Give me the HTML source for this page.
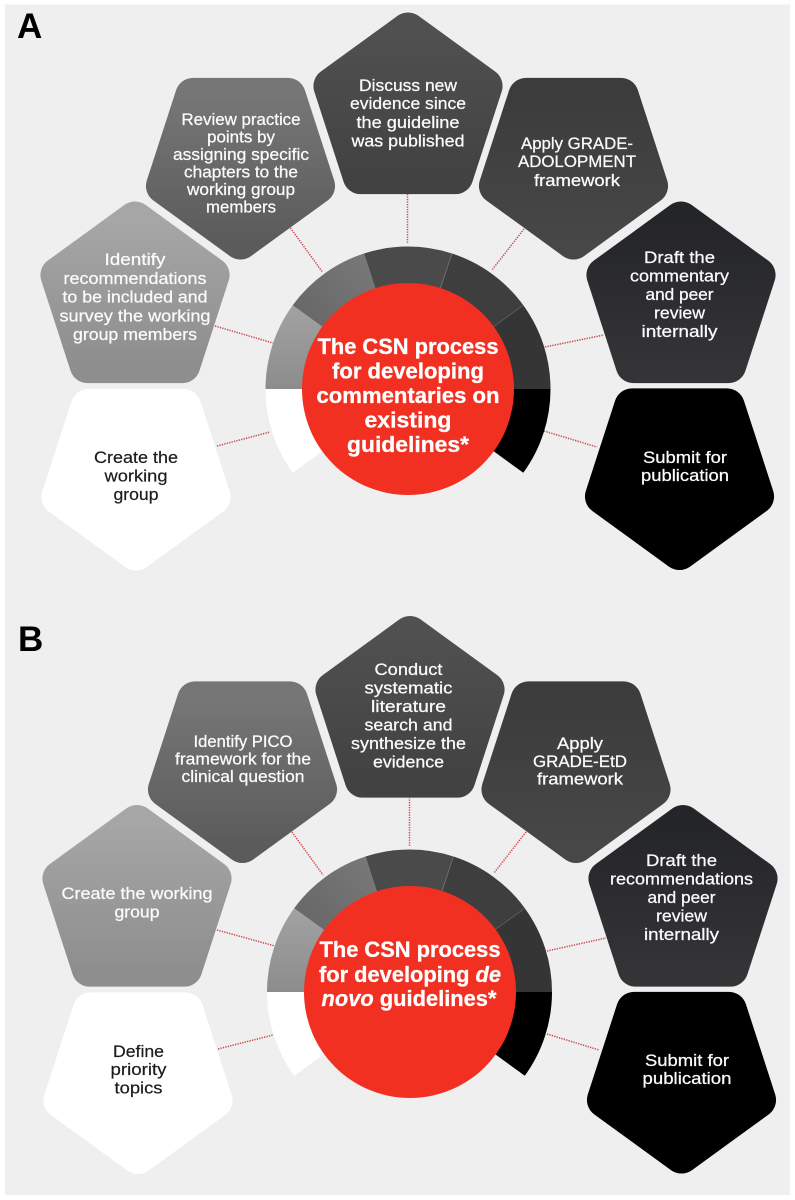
<!DOCTYPE html>
<html><head><meta charset="utf-8"><title>CSN process</title>
<style>
html,body{margin:0;padding:0;background:#fff}
svg{display:block;filter:blur(.3px)}
text{font-family:"Liberation Sans",sans-serif;text-anchor:middle}
.w{font-size:16.5px;fill:#fbfbfb;stroke:#fbfbfb;stroke-width:.25px}
.k{font-size:16.5px;fill:#1c1c1c;stroke:#1c1c1c;stroke-width:.2px}
.c{font-size:22.5px;font-weight:bold;fill:#fff;stroke:#fff;stroke-width:.3px}
.l{font-size:35px;font-weight:bold;fill:#000;text-anchor:start}
.d{stroke:#c9484c;stroke-width:1.5;stroke-dasharray:1.3 1.2;fill:none}
.s{stroke-linejoin:round;stroke-width:36}
</style></head><body>
<svg xmlns="http://www.w3.org/2000/svg" width="795" height="1200" viewBox="0 0 795 1200">
<defs>
<linearGradient id="g2" x1="0" y1="0" x2="0" y2="1"><stop offset="0" stop-color="#a6a6a6"/><stop offset="1" stop-color="#8e8e8e"/></linearGradient>
<linearGradient id="g3" x1="0" y1="0" x2="0" y2="1"><stop offset="0" stop-color="#767676"/><stop offset="1" stop-color="#5b5b5b"/></linearGradient>
<linearGradient id="g4" x1="0" y1="0" x2="0" y2="1"><stop offset="0" stop-color="#505050"/><stop offset="1" stop-color="#424242"/></linearGradient>
<linearGradient id="g5" x1="0" y1="0" x2="0" y2="1"><stop offset="0" stop-color="#3c3c3c"/><stop offset="1" stop-color="#474747"/></linearGradient>
<linearGradient id="g6" x1="0" y1="0" x2="0" y2="1"><stop offset="0" stop-color="#242528"/><stop offset="1" stop-color="#343437"/></linearGradient>
<linearGradient id="r3" x1="0" y1="1" x2="1" y2="0"><stop offset="0" stop-color="#5e5e5e"/><stop offset="1" stop-color="#7e7e7e"/></linearGradient>
<linearGradient id="r2" x1="0" y1="0" x2="0" y2="1"><stop offset="0" stop-color="#a2a2a2"/><stop offset="1" stop-color="#8c8c8c"/></linearGradient>
</defs>
<rect x="5" y="4.5" width="785" height="1190.5" fill="#efefef"/>

<!-- Panel A -->
<g class="s">
<polygon transform="translate(136,472)" points="0,80.5 76.56,24.88 47.32,-65.13 -47.32,-65.13 -76.56,24.88" fill="#fff" stroke="#fff"/>
<polygon transform="translate(135,300)" points="0,-80.5 76.56,-24.88 47.32,65.13 -47.32,65.13 -76.56,-24.88" fill="url(#g2)" stroke="url(#g2)"/>
<polygon transform="translate(240.5,161)" points="0,80.5 76.56,24.88 47.32,-65.13 -47.32,-65.13 -76.56,24.88" fill="url(#g3)" stroke="url(#g3)"/>
<polygon transform="translate(408,111)" points="0,-80.5 76.56,-24.88 47.32,65.13 -47.32,65.13 -76.56,-24.88" fill="url(#g4)" stroke="url(#g4)"/>
<polygon transform="translate(573.5,161)" points="0,80.5 76.56,24.88 47.32,-65.13 -47.32,-65.13 -76.56,24.88" fill="url(#g5)" stroke="url(#g5)"/>
<polygon transform="translate(681,300)" points="0,-80.5 76.56,-24.88 47.32,65.13 -47.32,65.13 -76.56,-24.88" fill="url(#g6)" stroke="url(#g6)"/>
<polygon transform="translate(679.5,471.5)" points="0,80.5 76.56,24.88 47.32,-65.13 -47.32,-65.13 -76.56,24.88" fill="#000" stroke="#000"/>
</g>
<line class="d" x1="217" y1="446" x2="270" y2="432"/>
<line class="d" x1="215" y1="326" x2="273" y2="343"/>
<line class="d" x1="290.5" y1="228" x2="322" y2="271.5"/>
<line class="d" x1="407.5" y1="194" x2="407.5" y2="243"/>
<line class="d" x1="524" y1="229" x2="492" y2="270"/>
<line class="d" x1="545" y1="347" x2="604" y2="335"/>
<line class="d" x1="544" y1="431" x2="597" y2="447"/>
<g transform="translate(408,389)">
<path d="M0,0L-142.5,0A142.5,142.5 0 0 0 -115.3,83.8Z" fill="#fff"/>
<path d="M0,0L-115.3,-83.8A142.5,142.5 0 0 0 -142.5,0Z" fill="url(#r2)"/>
<path d="M0,0L-44,-135.5A142.5,142.5 0 0 0 -115.3,-83.8Z" fill="url(#r3)"/>
<path d="M0,0L44,-135.5A142.5,142.5 0 0 0 -44,-135.5Z" fill="#4a4a4a"/>
<path d="M0,0L115.3,-83.8A142.5,142.5 0 0 0 44,-135.5Z" fill="#3e3e3e"/>
<path d="M0,0L142.5,0A142.5,142.5 0 0 0 115.3,-83.8Z" fill="#353535"/>
<path d="M0,0L115.3,83.8A142.5,142.5 0 0 0 142.5,0Z" fill="#000"/>
<line x1="44" y1="-135.5" x2="32" y2="-100" stroke="#777" stroke-width=".7"/>
<line x1="115.3" y1="-83.8" x2="85" y2="-62" stroke="#666" stroke-width=".7"/>
<circle r="106" fill="#f23022"/>
</g>
<text class="l" x="17" y="38">A</text>
<text class="c" x="408" y="354" textLength="181" lengthAdjust="spacingAndGlyphs">The CSN process</text>
<text class="c" x="408" y="378.5" textLength="152" lengthAdjust="spacingAndGlyphs">for developing</text>
<text class="c" x="408" y="403" textLength="183" lengthAdjust="spacingAndGlyphs">commentaries on</text>
<text class="c" x="408" y="427.5" textLength="87" lengthAdjust="spacingAndGlyphs">existing</text>
<text class="c" x="408" y="452" textLength="122" lengthAdjust="spacingAndGlyphs">guidelines*</text>

<text class="w" x="241" y="125" textLength="119" lengthAdjust="spacingAndGlyphs">Review practice</text>
<text class="w" x="241" y="142.5" textLength="68" lengthAdjust="spacingAndGlyphs">points by</text>
<text class="w" x="241" y="160" textLength="136" lengthAdjust="spacingAndGlyphs">assigning specific</text>
<text class="w" x="241" y="177.5" textLength="114" lengthAdjust="spacingAndGlyphs">chapters to the</text>
<text class="w" x="241" y="195" textLength="108" lengthAdjust="spacingAndGlyphs">working group</text>
<text class="w" x="241" y="212.5" textLength="70" lengthAdjust="spacingAndGlyphs">members</text>

<text class="w" x="135" y="265" textLength="61" lengthAdjust="spacingAndGlyphs">Identify</text>
<text class="w" x="135" y="284" textLength="143" lengthAdjust="spacingAndGlyphs">recommendations</text>
<text class="w" x="135" y="302.5" textLength="145" lengthAdjust="spacingAndGlyphs">to be included and</text>
<text class="w" x="135" y="321.5" textLength="151" lengthAdjust="spacingAndGlyphs">survey the working</text>
<text class="w" x="135" y="340" textLength="124" lengthAdjust="spacingAndGlyphs">group members</text>

<text class="w" x="408" y="91" textLength="98" lengthAdjust="spacingAndGlyphs">Discuss new</text>
<text class="w" x="408" y="109" textLength="116" lengthAdjust="spacingAndGlyphs">evidence since</text>
<text class="w" x="408" y="128" textLength="103" lengthAdjust="spacingAndGlyphs">the guideline</text>
<text class="w" x="408" y="146.5" textLength="113" lengthAdjust="spacingAndGlyphs">was published</text>

<text class="w" x="577" y="149" textLength="112" lengthAdjust="spacingAndGlyphs">Apply GRADE-</text>
<text class="w" x="577" y="167" textLength="118" lengthAdjust="spacingAndGlyphs">ADOLOPMENT</text>
<text class="w" x="577" y="186" textLength="86" lengthAdjust="spacingAndGlyphs">framework</text>

<text class="w" x="679.5" y="263" textLength="71" lengthAdjust="spacingAndGlyphs">Draft the</text>
<text class="w" x="679.5" y="281.5" textLength="99" lengthAdjust="spacingAndGlyphs">commentary</text>
<text class="w" x="679.5" y="300" textLength="68" lengthAdjust="spacingAndGlyphs">and peer</text>
<text class="w" x="679.5" y="318.5" textLength="51" lengthAdjust="spacingAndGlyphs">review</text>
<text class="w" x="679.5" y="337" textLength="76" lengthAdjust="spacingAndGlyphs">internally</text>

<text class="w" x="685" y="463" textLength="84" lengthAdjust="spacingAndGlyphs">Submit for</text>
<text class="w" x="685" y="481" textLength="88" lengthAdjust="spacingAndGlyphs">publication</text>

<text class="k" x="136" y="463" textLength="84" lengthAdjust="spacingAndGlyphs">Create the</text>
<text class="k" x="136" y="481.5" textLength="63" lengthAdjust="spacingAndGlyphs">working</text>
<text class="k" x="136" y="500" textLength="45" lengthAdjust="spacingAndGlyphs">group</text>

<!-- Panel B -->
<g class="s">
<polygon transform="translate(138,1075.5)" points="0,80.5 76.56,24.88 47.32,-65.13 -47.32,-65.13 -76.56,24.88" fill="#fff" stroke="#fff"/>
<polygon transform="translate(137,903.5)" points="0,-80.5 76.56,-24.88 47.32,65.13 -47.32,65.13 -76.56,-24.88" fill="url(#g2)" stroke="url(#g2)"/>
<polygon transform="translate(242.5,764.5)" points="0,80.5 76.56,24.88 47.32,-65.13 -47.32,-65.13 -76.56,24.88" fill="url(#g3)" stroke="url(#g3)"/>
<polygon transform="translate(410,714.5)" points="0,-80.5 76.56,-24.88 47.32,65.13 -47.32,65.13 -76.56,-24.88" fill="url(#g4)" stroke="url(#g4)"/>
<polygon transform="translate(576,764.5)" points="0,80.5 76.56,24.88 47.32,-65.13 -47.32,-65.13 -76.56,24.88" fill="url(#g5)" stroke="url(#g5)"/>
<polygon transform="translate(683,903.5)" points="0,-80.5 76.56,-24.88 47.32,65.13 -47.32,65.13 -76.56,-24.88" fill="url(#g6)" stroke="url(#g6)"/>
<polygon transform="translate(681.5,1075)" points="0,80.5 76.56,24.88 47.32,-65.13 -47.32,-65.13 -76.56,24.88" fill="#000" stroke="#000"/>
</g>
<line class="d" x1="218" y1="1049" x2="273" y2="1035"/>
<line class="d" x1="217" y1="930" x2="275" y2="946"/>
<line class="d" x1="292" y1="832" x2="323" y2="875"/>
<line class="d" x1="409.5" y1="797" x2="409.5" y2="847"/>
<line class="d" x1="526" y1="832" x2="494" y2="873"/>
<line class="d" x1="547" y1="951" x2="606" y2="938"/>
<line class="d" x1="547" y1="1034" x2="599" y2="1050"/>
<g transform="translate(409.5,992)">
<path d="M0,0L-142.5,0A142.5,142.5 0 0 0 -115.3,83.8Z" fill="#fff"/>
<path d="M0,0L-115.3,-83.8A142.5,142.5 0 0 0 -142.5,0Z" fill="url(#r2)"/>
<path d="M0,0L-44,-135.5A142.5,142.5 0 0 0 -115.3,-83.8Z" fill="url(#r3)"/>
<path d="M0,0L44,-135.5A142.5,142.5 0 0 0 -44,-135.5Z" fill="#4a4a4a"/>
<path d="M0,0L115.3,-83.8A142.5,142.5 0 0 0 44,-135.5Z" fill="#3e3e3e"/>
<path d="M0,0L142.5,0A142.5,142.5 0 0 0 115.3,-83.8Z" fill="#353535"/>
<path d="M0,0L115.3,83.8A142.5,142.5 0 0 0 142.5,0Z" fill="#000"/>
<line x1="44" y1="-135.5" x2="32" y2="-100" stroke="#777" stroke-width=".7"/>
<line x1="115.3" y1="-83.8" x2="85" y2="-62" stroke="#666" stroke-width=".7"/>
</g>
<circle cx="410" cy="992" r="106" fill="#f23022"/>
<text class="l" x="18" y="651">B</text>
<text class="c" x="410" y="957" textLength="181" lengthAdjust="spacingAndGlyphs">The CSN process</text>
<text class="c" x="410" y="982" textLength="182" lengthAdjust="spacingAndGlyphs">for developing <tspan font-style="italic">de</tspan></text>
<text class="c" x="409" y="1006" textLength="175" lengthAdjust="spacingAndGlyphs"><tspan font-style="italic">novo</tspan> guidelines*</text>

<text class="w" x="243" y="747" textLength="99" lengthAdjust="spacingAndGlyphs">Identify PICO</text>
<text class="w" x="243" y="764.5" textLength="136" lengthAdjust="spacingAndGlyphs">framework for the</text>
<text class="w" x="243" y="782" textLength="123" lengthAdjust="spacingAndGlyphs">clinical question</text>

<text class="w" x="408.5" y="675" textLength="68" lengthAdjust="spacingAndGlyphs">Conduct</text>
<text class="w" x="408.5" y="693.5" textLength="88" lengthAdjust="spacingAndGlyphs">systematic</text>
<text class="w" x="408.5" y="712" textLength="75" lengthAdjust="spacingAndGlyphs">literature</text>
<text class="w" x="408.5" y="730.5" textLength="88" lengthAdjust="spacingAndGlyphs">search and</text>
<text class="w" x="408.5" y="749" textLength="115" lengthAdjust="spacingAndGlyphs">synthesize the</text>
<text class="w" x="408.5" y="767.5" textLength="71" lengthAdjust="spacingAndGlyphs">evidence</text>

<text class="w" x="580" y="749" textLength="46" lengthAdjust="spacingAndGlyphs">Apply</text>
<text class="w" x="580" y="767" textLength="94" lengthAdjust="spacingAndGlyphs">GRADE-EtD</text>
<text class="w" x="580" y="784.5" textLength="86" lengthAdjust="spacingAndGlyphs">framework</text>

<text class="w" x="681.5" y="866" textLength="71" lengthAdjust="spacingAndGlyphs">Draft the</text>
<text class="w" x="681.5" y="884.5" textLength="143" lengthAdjust="spacingAndGlyphs">recommendations</text>
<text class="w" x="681.5" y="903" textLength="68" lengthAdjust="spacingAndGlyphs">and peer</text>
<text class="w" x="681.5" y="921.5" textLength="51" lengthAdjust="spacingAndGlyphs">review</text>
<text class="w" x="681.5" y="940" textLength="75" lengthAdjust="spacingAndGlyphs">internally</text>

<text class="w" x="687" y="1066" textLength="84" lengthAdjust="spacingAndGlyphs">Submit for</text>
<text class="w" x="687" y="1084" textLength="89" lengthAdjust="spacingAndGlyphs">publication</text>

<text class="w" x="137" y="899" textLength="151" lengthAdjust="spacingAndGlyphs">Create the working</text>
<text class="w" x="137" y="917.5" textLength="45" lengthAdjust="spacingAndGlyphs">group</text>

<text class="k" x="138.5" y="1057" textLength="51" lengthAdjust="spacingAndGlyphs">Define</text>
<text class="k" x="138.5" y="1075" textLength="56" lengthAdjust="spacingAndGlyphs">priority</text>
<text class="k" x="138.5" y="1093.5" textLength="48" lengthAdjust="spacingAndGlyphs">topics</text>
</svg>
</body></html>
